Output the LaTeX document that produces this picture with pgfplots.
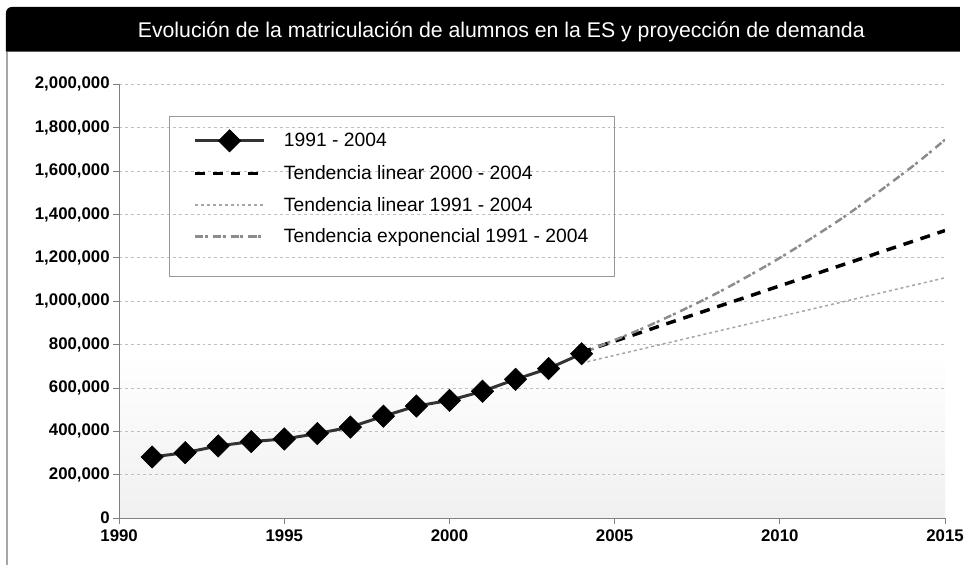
\documentclass[border=0pt]{standalone}
\usepackage{fontspec}
\setmainfont{Liberation Sans}
\usepackage{pgfplots}
\pgfplotsset{compat=1.18}
\pgfdeclareverticalshading{plotbg}{100bp}{color(0bp)=(black!12); color(12bp)=(black!10); color(44bp)=(white); color(100bp)=(white)}
\begin{document}
\begin{tikzpicture}
\fill[white] (0bp,0bp) rectangle (967bp,569bp);
\draw[black!35, line width=1.5bp] (7bp,0bp) -- (7bp,517bp);
\fill[black] (6bp,517bp) [rounded corners=6bp] -- (6bp,562bp) [sharp corners] -- (967bp,562bp) -- (967bp,517bp) -- cycle;
\node[white, font=\fontsize{21.5}{24}\selectfont] at (505bp,537bp) {Evolución de la matriculación de alumnos en la ES y proyección de demanda};
\begin{axis}[
  at={(120bp,47bp)}, anchor=south west,
  scale only axis, width=832bp, height=437bp,
  axis background/.style={shading=plotbg},
  xmin=1990, xmax=2015, ymin=0, ymax=2000000,
  xtick={1990,1995,2000,2005,2010,2015},
  ytick={0,200000,400000,600000,800000,1000000,1200000,1400000,1600000,1800000,2000000},
  axis x line*=bottom, axis y line*=left,
  axis line style={black!50, line width=1.2bp},
  ymajorgrids,
  grid style={black!25, dash pattern=on 3bp off 3bp, line width=0.8bp},
  tick style={black!50, line width=1bp},
  major tick length=6bp, tick align=outside,
  scaled y ticks=false,
  yticklabel style={/pgf/number format/.cd, fixed, 1000 sep={,}, assume math mode=true},
  xticklabel style={yshift=-2bp, /pgf/number format/.cd, 1000 sep={}, assume math mode=true},
  tick label style={font=\fontsize{17}{19}\selectfont\bfseries},
  legend style={at={(0.06,0.927)}, anchor=north west, draw=black!40, line width=1.2bp,
    fill=none, font=\fontsize{19.5}{22}\selectfont, row sep=12bp, inner xsep=24bp, inner ysep=13bp,
    /tikz/every odd column/.append style={column sep=16bp}},
  legend cell align=left,
  legend image code/.code={\draw[mark repeat=2,mark phase=2,#1] plot coordinates {(0bp,0bp) (35bp,0bp) (70bp,0bp)};},
]
\addplot[black!80, line width=3bp, mark=square*, mark size=8bp,
  mark options={rotate=45, fill=black, draw=black, solid, line width=0.5bp}]
  coordinates {
  (1991,282000) (1992,302000) (1993,333000) (1994,353000) (1995,365000)
  (1996,390000) (1997,420000) (1998,470000) (1999,517000) (2000,543000)
  (2001,585000) (2002,640000) (2003,690000) (2004,758000)};
\addlegendentry{1991 - 2004}
\addplot[black, line width=3.5bp, dash pattern=on 10bp off 8bp]
  coordinates {(2004,765000) (2015,1326000)};
\addlegendentry{Tendencia linear 2000 - 2004}
\addplot[black!35, line width=1.5bp, dash pattern=on 3bp off 3bp]
  coordinates {(2004,715000) (2015,1108000)};
\addlegendentry{Tendencia linear 1991 - 2004}
\addplot[black!45, line width=2.5bp, dash pattern=on 8bp off 2bp on 3bp off 5bp, smooth]
  coordinates {(2004,760000) (2006,885000) (2008,1030000) (2010,1200000) (2012,1395000) (2014,1620000) (2015,1745000)};
\addlegendentry{Tendencia exponencial 1991 - 2004}
\addlegendimage{empty legend}
\addlegendentry{}
\end{axis}
\end{tikzpicture}
\end{document}
